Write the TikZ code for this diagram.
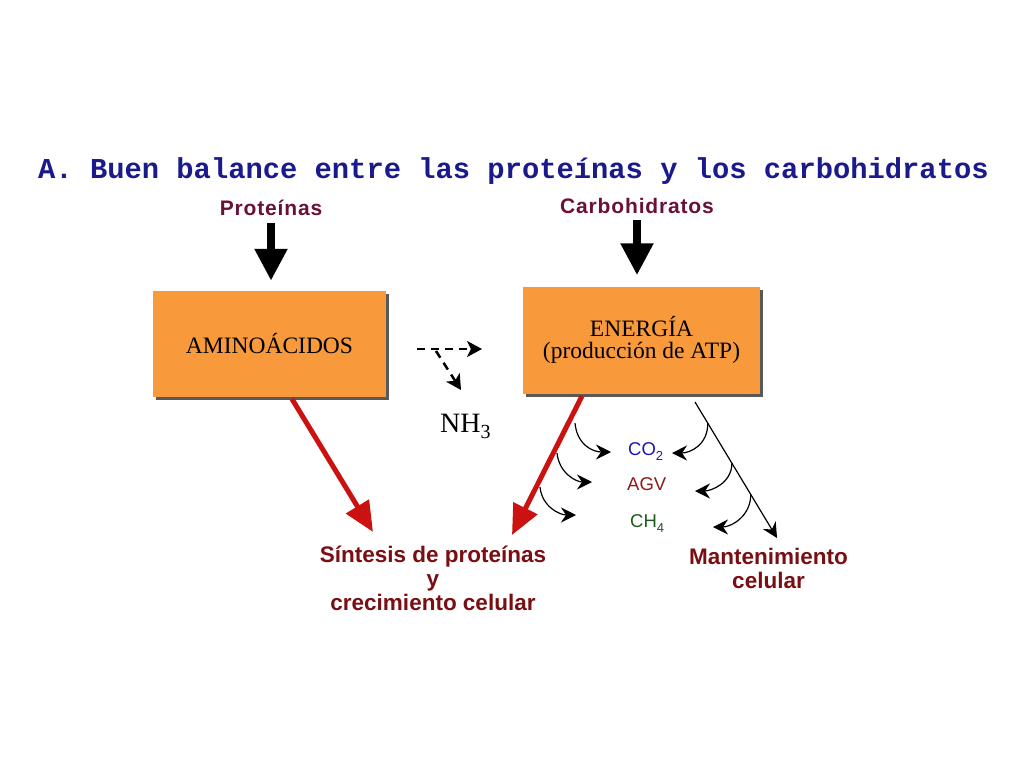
\documentclass[tikz,border=0pt]{standalone}
\usepackage{fontspec}
\setmainfont{Liberation Serif}
\setsansfont{Liberation Sans}
\setmonofont{Liberation Mono}
\usetikzlibrary{arrows.meta,shadows}

\definecolor{titleblue}{HTML}{1A1A8C}
\definecolor{labelpurple}{HTML}{6B1038}
\definecolor{labelred}{HTML}{7A0E12}
\definecolor{boxorange}{HTML}{F89A3C}
\definecolor{redarrow}{HTML}{CC1111}
\definecolor{co2blue}{HTML}{1A1AA8}
\definecolor{agvred}{HTML}{8B1A1A}
\definecolor{chgreen}{HTML}{1E5A1E}

\begin{document}
\begin{tikzpicture}[x=1pt,y=-1pt,
  box/.style={fill=boxorange, inner sep=0, align=center,
    font=\fontsize{23.5}{21.5}\selectfont,
    drop shadow={shadow xshift=3pt, shadow yshift=-3pt, fill=black!65, opacity=1}},
  toplabel/.style={inner sep=0, anchor=base, text=labelpurple,
    font=\sffamily\bfseries\fontsize{21}{24}\selectfont\addfontfeature{LetterSpace=4}},
  botlabel/.style={inner sep=0, anchor=base, align=center, text=labelred,
    font=\sffamily\bfseries\fontsize{22.5}{24}\selectfont},
  chem/.style={inner sep=0, anchor=base west, font=\sffamily\fontsize{18.5}{20}\selectfont},
  bigarrow/.style={line width=8pt, black, -{Triangle[length=32pt,width=31pt]}},
  redarr/.style={line width=5pt, redarrow, -{Triangle[length=30pt,width=26pt]}},
  thinarr/.style={line width=1.2pt, black, -{Stealth[length=15pt,width=15pt,inset=5pt]}},
  dasharr/.style={line width=2.5pt, black, dash pattern=on 8pt off 6pt, -{Stealth[length=15pt,width=16pt,inset=4pt]}}
]
\useasboundingbox[fill=white] (0,0) rectangle (1024,768);

% title
\node[inner sep=0, anchor=base west, text=titleblue,
  font=\ttfamily\bfseries\fontsize{28.8}{30}\selectfont] (title) at (38,178)
  {A. Buen balance entre las proteínas y los carbohidratos};

% top labels
\node[toplabel] (prot) at (271,215) {Proteínas};
\node[toplabel] (carb) at (637,213) {Carbohidratos};

% boxes
\node[box, minimum width=233pt, minimum height=106pt] (amino) at (269.5,344) {AMINOÁCIDOS};
\node[box, minimum width=237pt, minimum height=107pt] (energia) at (641.5,340)
  {ENERGÍA\\(producción de ATP)};

% big black arrows
\draw[bigarrow, shorten <=8pt, shorten >=10pt] (prot.south) -- (amino.north -| prot.south);
\draw[bigarrow, shorten <=7pt, shorten >=11pt] (carb.south) -- (energia.north -| carb.south);

% dashed arrow and NH3
\coordinate (d1) at (417,349);
\coordinate (d2) at (482,349);
\coordinate (d3) at (461,390);
\draw[dasharr] (d1) -- (d2);
\draw[dasharr] (d1) ++(19,2) coordinate (d4) -- (d3);
\node[inner sep=0, anchor=base west, font=\fontsize{28}{30}\selectfont] (nh3) at (440,432)
  {NH\raisebox{-6pt}{\fontsize{20}{20}\selectfont 3}};

% bottom labels (base anchor = last line)
\node[botlabel] (sint) at (433,610) {Síntesis de proteínas\\y\\crecimiento celular};
\node[botlabel] (mant) at (768.5,588) {Mantenimiento\\celular};

% red arrows
\coordinate (r1s) at (292,399);
\coordinate (r1e) at (373,532);
\coordinate (r2s) at (582,396);
\coordinate (r2e) at (512,535);
\draw[redarr] (r1s) -- (r1e);
\draw[redarr] (r2s) -- (r2e);

% maintenance line
\coordinate (m1) at (695,402);
\coordinate (m2) at (777,538);
\draw[thinarr] (m1) -- (m2);
\path (m1) -- (m2) coordinate[pos=0.156] (q1) coordinate[pos=0.45] (q2) coordinate[pos=0.68] (q3);

% products
\node[chem, text=co2blue] (co2) at (628,455) {CO\raisebox{-5pt}{\fontsize{13}{14}\selectfont 2}};
\node[chem, text=agvred] (agv) at (627,490) {AGV};
\node[chem, text=chgreen] (ch4) at (630,527) {CH\raisebox{-5pt}{\fontsize{13}{14}\selectfont 4}};

% curved arrows from energy (left)
\coordinate (p1) at (575,423);
\coordinate (p2) at (557,453);
\coordinate (p3) at (540,487);
\coordinate (t1) at (611,452);
\coordinate (t2) at (592,482);
\coordinate (t3) at (576,515);
\draw[thinarr] (p1) .. controls +(2,22) and +(-18,0) .. (t1);
\draw[thinarr] (p2) .. controls +(2,20) and +(-16,0) .. (t2);
\draw[thinarr] (p3) .. controls +(2,20) and +(-16,0) .. (t3);

% curved arrows from maintenance line (right)
\coordinate (u1) at (672,453);
\coordinate (u2) at (695,491);
\coordinate (u3) at (713,527);
\draw[thinarr] (q1) .. controls +(0,22) and +(18,0) .. (u1);
\draw[thinarr] (q2) .. controls +(0,20) and +(16,0) .. (u2);
\draw[thinarr] (q3) .. controls +(0,22) and +(18,0) .. (u3);
\end{tikzpicture}
\end{document}
